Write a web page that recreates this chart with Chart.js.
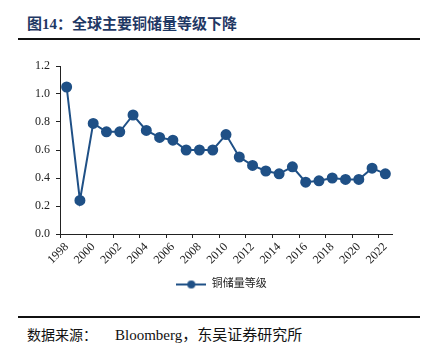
<!DOCTYPE html>
<html><head><meta charset="utf-8">
<script src="https://cdn.jsdelivr.net/npm/chart.js@4/dist/chart.umd.min.js"></script>
<style>
html,body{margin:0;padding:0;background:#fff;width:428px;height:356px;overflow:hidden;position:relative}
.title{position:absolute;left:27px;top:12px;font:bold 15px "Liberation Serif","Noto Sans CJK SC";color:#1f3864;white-space:nowrap}
.rule{position:absolute;left:18px;width:402px;height:2px;background:#111}
.src1{position:absolute;left:27px;top:324px;font:14px "Liberation Serif","Noto Sans CJK SC";color:#111;white-space:nowrap}
.src2{position:absolute;left:115px;top:323px;font:15px "Liberation Serif","Noto Sans CJK SC";color:#111;white-space:nowrap}
#wrap{position:absolute;left:0;top:42px;width:428px;height:264px}
</style></head><body>
<div class="title">图14：全球主要铜储量等级下降</div>
<div class="rule" style="top:38px"></div>
<div id="wrap"><canvas id="c"></canvas></div>
<div class="rule" style="top:316px;height:1.5px"></div>
<div class="src1">数据来源：</div>
<div class="src2">Bloomberg，东吴证券研究所</div>
<script>
const years = ['1998','1999','2000','2001','2002','2003','2004','2005','2006','2007','2008','2009','2010','2011','2012','2013','2014','2015','2016','2017','2018','2019','2020','2021','2022'];
const copperGrade = [1.05,0.24,0.79,0.73,0.73,0.85,0.74,0.69,0.67,0.60,0.60,0.60,0.71,0.55,0.49,0.45,0.43,0.48,0.37,0.38,0.40,0.39,0.39,0.47,0.43];
const seriesName = '铜储量等级';
const yTicks = [0,0.2,0.4,0.6,0.8,1.0,1.2];

const COLOR = '#1f5086';
const icon = document.createElement('canvas');
icon.width = 30; icon.height = 10;
(function(){const g = icon.getContext('2d');
g.strokeStyle = COLOR; g.lineWidth = 2; g.beginPath(); g.moveTo(0,5); g.lineTo(30,5); g.stroke();
g.fillStyle = COLOR; g.beginPath(); g.arc(15,5,4,0,Math.PI*2); g.fill();})();

const serif = "'Liberation Serif','Noto Sans CJK SC'";
new Chart(document.getElementById('c'), {
  type: 'line',
  data: { labels: years, datasets: [{
    label: seriesName, data: copperGrade,
    borderColor: COLOR, backgroundColor: COLOR, borderWidth: 2,
    pointRadius: 4.5, pointHoverRadius: 4.5, pointBackgroundColor: COLOR, pointBorderColor: COLOR,
    tension: 0, yAxisID: 'y'
  }]},
  options: {
    responsive: true, maintainAspectRatio: false, animation: false,
    layout: { padding: { left: 15, right: 0, top: 24, bottom: 6 } },
    plugins: {
      tooltip: { enabled: false },
      legend: { position: 'bottom', labels: { usePointStyle: true, pointStyle: icon, pointStyleWidth: 30,
        color: '#222', font: { family: serif, size: 11 }, padding: 10 } }
    },
    scales: {
      x: {
        type: 'category', offset: true,
        grid: { offset: true, drawOnChartArea: false, drawTicks: true, tickLength: 4,
          color: c => (c.index !== undefined && c.index % 2 === 0) ? '#222' : 'rgba(0,0,0,0)' },
        border: { color: '#222', width: 1 },
        ticks: { autoSkip: false, minRotation: 45, maxRotation: 45, color: '#222', padding: 2,
          font: { family: serif, size: 12 },
          callback: function(v, i){ return i % 2 === 0 ? this.getLabelForValue(v) : ''; } },
        afterFit: s => { s.height = 35; }
      },
      y: {
        min: 0, max: 1.2,
        afterBuildTicks: s => { s.ticks = yTicks.map(v => ({ value: v })); },
        grid: { drawOnChartArea: false, drawTicks: true, tickLength: 4, color: '#222' },
        border: { color: '#222', width: 1 },
        ticks: { color: '#222', padding: 6, font: { family: serif, size: 12 }, callback: v => Number(v).toFixed(1) },
        afterFit: s => { s.width = 45; }
      },
      y2: {
        position: 'right', min: 0, max: 1.2, display: true,
        grid: { display: false }, border: { display: false },
        ticks: { display: false },
        afterFit: s => { s.width = 36; }
      }
    }
  }
});
</script>
</body></html>
